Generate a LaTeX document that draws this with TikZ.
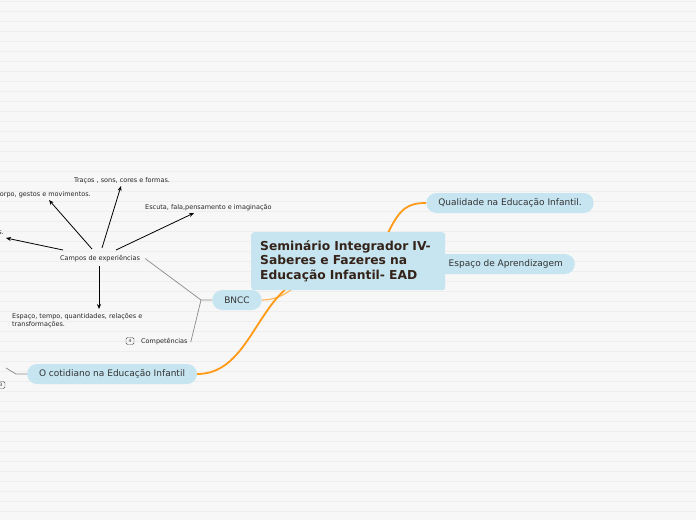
\documentclass[tikz,border=0pt]{standalone}
\usepackage{fontspec}
\setmainfont{DejaVu Sans}
\usetikzlibrary{arrows.meta}
\definecolor{bgc}{HTML}{F7F7F7}
\definecolor{bgline}{HTML}{EEEEEE}
\definecolor{nodeblue}{HTML}{C6E5F0}
\definecolor{txt}{HTML}{333333}
\definecolor{titletxt}{HTML}{35231A}
\definecolor{branch}{HTML}{FF9A16}
\definecolor{graylink}{HTML}{8A8A8A}
\tikzset{
  pill/.style={fill=nodeblue, rounded corners=10pt, minimum height=20pt, inner xsep=12pt, inner ysep=0pt, text=txt, font=\fontsize{9}{10}\selectfont},
  centralbox/.style={fill=nodeblue, rounded corners=3pt, minimum width=194pt, minimum height=58pt, text=titletxt, align=left, font=\fontsize{12.3}{14.5}\selectfont\bfseries, inner xsep=9pt},
  small/.style={inner sep=0pt, text=black!85, font=\fontsize{6.5}{8.3}\selectfont},
  countbox/.style={draw=black!70, rounded corners=1.5pt, inner sep=1pt, minimum width=8pt, minimum height=7pt, font=\fontsize{4.5}{5}\selectfont, text=black!80, line width=0.4pt},
  arr/.style={-{Stealth[length=5pt,width=4pt]}, line width=0.8pt, black},
  mainbranch/.style={branch, line width=1.8pt},
  thinbranch/.style={branch!70, line width=1.2pt},
  grayline/.style={graylink, line width=0.7pt}
}
\begin{document}
\begin{tikzpicture}[x=1pt,y=-1pt]
\useasboundingbox (0,0) rectangle (696,520);
\fill[bgc] (0,0) rectangle (696,520);
\foreach \k in {0,...,52} {\draw[bgline, line width=0.9pt] (0,{10*\k+1}) -- (696,{10*\k+1});}

% coordinates
\coordinate (ctrA) at (292,284);
\coordinate (ctrB) at (296,286);
\coordinate (ctrQ) at (388,233);
\coordinate (split) at (201,300);
\coordinate (cotL) at (16,374);
\coordinate (cotE) at (6,368);
\coordinate (tipEu) at (6,238);
\coordinate (tipCorpo) at (49,200);
\coordinate (tipTracos) at (121,186);
\coordinate (tipEscuta) at (194,213);
\coordinate (tipEspaco) at (99,309);

% nodes
\node[pill, anchor=east] (esp) at (575,264) {Espaço de Aprendizagem};
\node[pill] (qual) at (510,203) {Qualidade na Educação Infantil.};
\node[pill] (bncc) at (237,300) {BNCC};
\node[pill] (cot) at (112,374) {O cotidiano na Educação Infantil};

\node[small] (campos) at (100,258.5) {Campos de experiências};
\node[small, anchor=west] (comp) at (141,342) {Competências};
\node[countbox] (n4) at (130,341) {4};
\node[countbox] (n3) at (1,385) {3};

\node[small] (tracos) at (122,180.5) {Traços , sons, cores e formas.};
\node[small, anchor=east] (corpo) at (91,194.5) {Corpo, gestos e movimentos.};
\node[small, anchor=west] (escuta) at (145,207.5) {Escuta, fala,pensamento e imaginação};
\node[small, anchor=east] (eu) at (4,232.5) {O eu, o outro e o nós.};
\node[small, anchor=north west, align=left] (espaco) at (12,313) {Espaço, tempo, quantidades, relações e\\transformações.};

% connectors
\draw[thinbranch] (bncc.east) .. controls (275,300) and (285,295) .. (ctrB);
\draw[mainbranch] (cot.east) .. controls (245,374) and (255,310) .. (ctrA);
\draw[mainbranch] (ctrQ) .. controls (400,208) and (408,203) .. (qual.west);

\draw[grayline] (campos.east) ++(5,0) -- (split) -- (bncc.west);
\draw[grayline] (split) -- ([xshift=3pt]comp.east);
\draw[grayline] (cot.west) -- (cotL) -- (cotE);

\draw[arr] (63,250) -- (tipEu);
\draw[arr] (92,249) -- (tipCorpo);
\draw[arr] (102,248) -- (tipTracos);
\draw[arr] (116,250) -- (tipEscuta);
\draw[arr] (99,266) -- (tipEspaco);

\node[centralbox, anchor=north west, text width=176pt] (central) at (251,232) {Seminário Integrador IV-\\Saberes e Fazeres na\\Educação Infantil- EAD};
\end{tikzpicture}
\end{document}
